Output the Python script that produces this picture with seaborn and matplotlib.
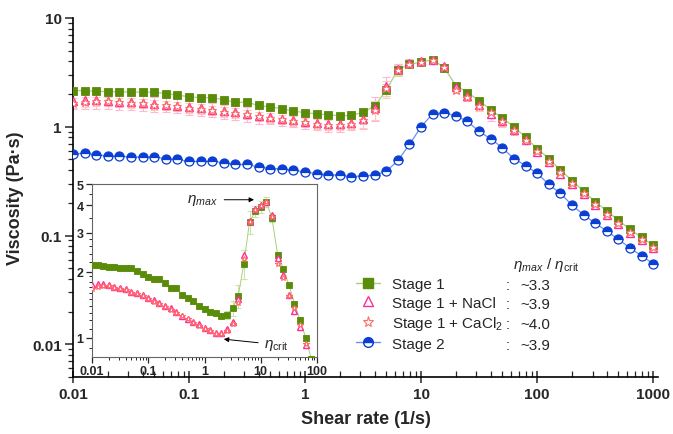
import numpy as np
import matplotlib
matplotlib.use("Agg")
import matplotlib.pyplot as plt
from matplotlib.lines import Line2D
from matplotlib.ticker import LogLocator, NullFormatter, FixedLocator
import seaborn as sns

# ==========================================
# DATA
# ==========================================
shear_rate = [0.01, 0.0126, 0.0158, 0.02, 0.0251, 0.0316, 0.0398, 0.0501, 0.0631, 0.0794,
              0.1, 0.126, 0.158, 0.2, 0.251, 0.316, 0.398, 0.501, 0.631, 0.794,
              1.0, 1.26, 1.58, 2.0, 2.51, 3.16, 3.98, 5.01, 6.31, 7.94,
              10.0, 12.6, 15.8, 20.0, 25.1, 31.6, 39.8, 50.1, 63.1, 79.4,
              100.0, 126.0, 158.0, 200.0, 251.0, 316.0, 398.0, 501.0, 631.0, 794.0, 1000.0]

stage1 = [2.15, 2.15, 2.12, 2.10, 2.10, 2.08, 2.08, 2.08, 2.02, 1.95,
          1.89, 1.85, 1.85, 1.77, 1.68, 1.68, 1.57, 1.52, 1.47, 1.39,
          1.35, 1.31, 1.29, 1.26, 1.27, 1.36, 1.55, 2.17, 3.36, 3.75,
          3.93, 4.14, 3.50, 2.38, 2.06, 1.74, 1.43, 1.20, 1.00, 0.80,
          0.63, 0.51, 0.40, 0.32, 0.255, 0.205, 0.168, 0.138, 0.114, 0.096, 0.081]

stage1_nacl = [1.73, 1.75, 1.75, 1.73, 1.70, 1.68, 1.66, 1.62, 1.60, 1.56,
               1.51, 1.48, 1.44, 1.39, 1.36, 1.31, 1.26, 1.22, 1.18, 1.15,
               1.11, 1.08, 1.05, 1.05, 1.09, 1.18, 1.50, 2.38, 3.40, 3.86,
               4.00, 4.14, 3.60, 2.30, 1.92, 1.57, 1.32, 1.12, 0.93, 0.75,
               0.59, 0.47, 0.37, 0.30, 0.24, 0.19, 0.155, 0.128, 0.106, 0.090, 0.076]

stage1_cacl2 = [1.66, 1.70, 1.72, 1.71, 1.68, 1.66, 1.64, 1.60, 1.58, 1.54,
                1.50, 1.46, 1.42, 1.38, 1.34, 1.30, 1.25, 1.21, 1.17, 1.13,
                1.10, 1.07, 1.04, 1.04, 1.07, 1.15, 1.44, 2.28, 3.35, 3.80,
                3.98, 4.12, 3.55, 2.17, 1.86, 1.55, 1.36, 1.14, 0.94, 0.76,
                0.60, 0.48, 0.38, 0.305, 0.245, 0.195, 0.158, 0.130, 0.108, 0.092, 0.078]

stage2 = [0.565, 0.57, 0.553, 0.538, 0.538, 0.527, 0.527, 0.527, 0.509, 0.50,
          0.48, 0.48, 0.48, 0.468, 0.45, 0.45, 0.427, 0.412, 0.412, 0.397,
          0.384, 0.37, 0.363, 0.358, 0.346, 0.355, 0.358, 0.389, 0.49, 0.688,
          1.00, 1.32, 1.34, 1.26, 1.12, 0.905, 0.776, 0.64, 0.509, 0.44,
          0.373, 0.295, 0.245, 0.19, 0.155, 0.13, 0.11, 0.092, 0.077, 0.065, 0.055]

# relative error bars (%)
stage1_err = [3, 3, 3, 3, 3, 3, 3, 3, 3, 3,
              3, 3, 3, 3, 3, 3, 3, 3, 3, 3,
              3, 3, 3, 3, 4, 8, 12, 15, 12, 6,
              6, 5, 4, 3, 3, 3, 3, 3, 3, 3,
              3, 3, 3, 3, 3, 3, 3, 3, 3, 3, 3]
nacl_err = [16, 16, 16, 16, 16, 16, 16, 16, 15, 15,
            15, 15, 15, 15, 15, 15, 15, 14, 14, 14,
            14, 14, 14, 14, 14, 20, 25, 20, 12, 8,
            6, 6, 5, 5, 10, 12, 15, 12, 10, 8,
            8, 8, 8, 8, 8, 6, 6, 6, 6, 6, 6]
cacl2_err = [10, 10, 10, 10, 10, 10, 10, 10, 10, 10,
             10, 10, 10, 10, 10, 10, 10, 10, 10, 10,
             10, 10, 10, 10, 10, 15, 20, 15, 10, 6,
             5, 5, 5, 5, 8, 10, 12, 10, 8, 6,
             6, 6, 6, 6, 6, 5, 5, 5, 5, 5, 5]

labels = ["Stage 1", "Stage 1 + NaCl", r"Stage 1 + CaCl$_2$", "Stage 2"]
ratios = ["~3.3", "~3.9", "~4.0", "~3.9"]

# ==========================================
# STYLE
# ==========================================
sns.set_theme(style="ticks")
plt.rcParams['font.family'] = ['Liberation Sans', 'DejaVu Sans']
plt.rcParams['mathtext.fontset'] = 'custom'
plt.rcParams['mathtext.rm'] = 'Liberation Sans'
plt.rcParams['mathtext.it'] = 'Liberation Sans:italic'
plt.rcParams['mathtext.bf'] = 'Liberation Sans:bold'

GREEN, GREEN_LINE, GREEN_ERR = '#5a8c0a', '#a9cf7e', '#c9e3ad'
PINK, PINK_ERR = '#ff2d96', '#ffb8d4'
CORAL, CORAL_ERR = '#ff6b6b', '#ffc8c0'
BLUE, BLUE_LINE = '#0b3fd4', '#6d8ff0'

W, H = 673, 435
fig = plt.figure(figsize=(W / 100, H / 100), dpi=100)

def fx(px):
    return px / W

def fy(py):
    return 1 - py / H

x = np.array(shear_rate)


def draw_series(ax, ms, lw, salt_errors=True):
    ax.errorbar(x, stage1, yerr=np.array(stage1) * np.array(stage1_err) / 100, fmt='none',
                ecolor=GREEN_ERR, elinewidth=0.8, capsize=ms * 0.5, capthick=0.8, zorder=1)
    if salt_errors:
        ax.errorbar(x, stage1_nacl, yerr=np.array(stage1_nacl) * np.array(nacl_err) / 100, fmt='none',
                    ecolor=PINK_ERR, elinewidth=0.8, capsize=ms * 0.5, capthick=0.8, zorder=1)
        ax.errorbar(x, stage1_cacl2, yerr=np.array(stage1_cacl2) * np.array(cacl2_err) / 100, fmt='none',
                    ecolor=CORAL_ERR, elinewidth=0.8, capsize=ms * 0.5, capthick=0.8, zorder=1)
    sns.lineplot(x=x, y=stage1, ax=ax, color=GREEN_LINE, lw=lw, marker='s', markersize=ms,
                 markerfacecolor=GREEN, markeredgecolor=GREEN, markeredgewidth=0.6,
                 errorbar=None, legend=False, zorder=3)
    sns.lineplot(x=x, y=stage1_nacl, ax=ax, color=PINK, linestyle='none', marker='^',
                 markersize=ms * 1.1, markerfacecolor='white', markeredgecolor=PINK,
                 markeredgewidth=1.0, errorbar=None, legend=False, zorder=4)
    sns.lineplot(x=x, y=stage1_cacl2, ax=ax, color=CORAL, linestyle='none', marker='*',
                 markersize=ms * 1.1, markerfacecolor='white', markeredgecolor=CORAL,
                 markeredgewidth=0.8, errorbar=None, legend=False, zorder=5)


# ==========================================
# MAIN AXES
# ==========================================
ax = fig.add_axes([fx(73), fy(378), fx(585), (378 - 19) / H])
ax.set_xscale('log')
ax.set_yscale('log')
draw_series(ax, ms=5.8, lw=0.9)
sns.lineplot(x=x, y=stage2, ax=ax, color=BLUE_LINE, lw=0.9, marker='o', markersize=6.5,
             fillstyle='top', markerfacecolor=BLUE, markerfacecoloralt='white',
             markeredgecolor=BLUE, markeredgewidth=0.9, errorbar=None, legend=False, zorder=3)

ax.set_xlim(0.01, 1100)
ax.set_ylim(0.005, 10)
ax.set_xticks([0.01, 0.1, 1, 10, 100, 1000], labels=['0.01', '0.1', '1', '10', '100', '1000'])
ax.set_yticks([0.01, 0.1, 1, 10], labels=['0.01', '0.1', '1', '10'])
ax.xaxis.set_minor_locator(LogLocator(base=10, subs=np.arange(2, 10)))
ax.yaxis.set_minor_locator(LogLocator(base=10, subs=np.arange(2, 10)))
ax.xaxis.set_minor_formatter(NullFormatter())
ax.yaxis.set_minor_formatter(NullFormatter())
ax.tick_params(axis='x', which='major', direction='inout', length=9, width=1.1, labelsize=11, pad=3)
ax.tick_params(axis='x', which='minor', direction='in', length=4, width=0.9)
ax.tick_params(axis='y', which='major', direction='out', length=6, width=1.1, labelsize=11, pad=2)
ax.tick_params(axis='y', which='minor', direction='out', length=3.5, width=0.9)
for lbl in ax.get_xticklabels() + ax.get_yticklabels():
    lbl.set_fontweight('bold')
for s in ['top', 'right']:
    ax.spines[s].set_visible(False)
for s in ['left', 'bottom']:
    ax.spines[s].set_linewidth(1.2)
    ax.spines[s].set_color('black')
ax.set_xlabel('Shear rate (1/s)', fontsize=13, fontweight='bold', labelpad=6)
ax.set_ylabel('Viscosity (Pa·s)', fontsize=13, fontweight='bold', labelpad=6)

# ==========================================
# INSET
# ==========================================
axin = fig.add_axes([fx(92), fy(358), fx(225), (358 - 185) / H])
axin.set_facecolor('white')
axin.set_xscale('log')
axin.set_yscale('log')
draw_series(axin, ms=3.8, lw=0.7, salt_errors=False)
axin.set_xlim(0.01, 100)
axin.set_ylim(0.817, 5)
axin.set_xticks([0.01, 0.1, 1, 10, 100], labels=['0.01', '0.1', '1', '10', '100'])
axin.set_yticks([1, 2, 3, 4, 5], labels=['1', '2', '3', '4', '5'])
axin.xaxis.set_minor_locator(LogLocator(base=10, subs=np.arange(2, 10)))
axin.xaxis.set_minor_formatter(NullFormatter())
axin.yaxis.set_minor_locator(FixedLocator([0.9, 1.1, 1.2, 1.3, 1.4, 1.5, 1.6, 1.7, 1.8, 1.9,
                                            2.2, 2.4, 2.6, 2.8, 3.5, 4.5]))
axin.yaxis.set_minor_formatter(NullFormatter())
axin.tick_params(which='major', direction='out', length=4, width=0.9, labelsize=9, pad=2)
axin.tick_params(which='minor', direction='out', length=2.2, width=0.7)
for lbl in axin.get_xticklabels() + axin.get_yticklabels():
    lbl.set_fontweight('bold')
for s in axin.spines.values():
    s.set_linewidth(0.8)
    s.set_color('#666666')

axin.annotate(r'$\eta_{max}$', xy=(7.6, 4.24), xytext=(1.75, 4.24), ha='right', va='center',
              fontsize=11, arrowprops=dict(arrowstyle='-|>', color='black', lw=0.7,
                                           mutation_scale=7, shrinkA=2, shrinkB=0))
axin.annotate(r'$\eta_{\mathrm{crit}}$', xy=(2.2, 0.985), xytext=(11.5, 0.93), ha='left', va='center',
              fontsize=11, arrowprops=dict(arrowstyle='-|>', color='black', lw=0.7,
                                           mutation_scale=7, shrinkA=2, shrinkB=0))

# ==========================================
# LEGEND + RATIO COLUMN
# ==========================================
handles = [
    Line2D([], [], color=GREEN_LINE, lw=1, marker='s', markersize=6.5,
           markerfacecolor=GREEN, markeredgecolor=GREEN),
    Line2D([], [], color=PINK, ls='none', marker='^', markersize=7.5,
           markerfacecolor='white', markeredgecolor=PINK, markeredgewidth=1.0),
    Line2D([], [], color=CORAL, ls='none', marker='*', markersize=8,
           markerfacecolor='white', markeredgecolor=CORAL, markeredgewidth=0.8),
    Line2D([], [], color=BLUE_LINE, lw=1, marker='o', markersize=7, fillstyle='top',
           markerfacecolor=BLUE, markerfacecoloralt='white', markeredgecolor=BLUE),
]
fig.legend(handles, labels, loc='upper left', bbox_to_anchor=(fx(356), fy(278)),
           frameon=False, fontsize=11, handlelength=1.6, handletextpad=0.75,
           labelspacing=0.3, borderpad=0, borderaxespad=0)

fig.text(fx(513), fy(265), r'$\eta_{max}$ / $\eta_{\mathrm{crit}}$', fontsize=11,
         ha='left', va='center')
row_y = [286, 305, 325, 346]
for ry, r in zip(row_y, ratios):
    fig.text(fx(508), fy(ry), ':', fontsize=11, ha='center', va='center')
    fig.text(fx(520), fy(ry), r, fontsize=11, ha='left', va='center')

fig.savefig('out.png', dpi=100)
